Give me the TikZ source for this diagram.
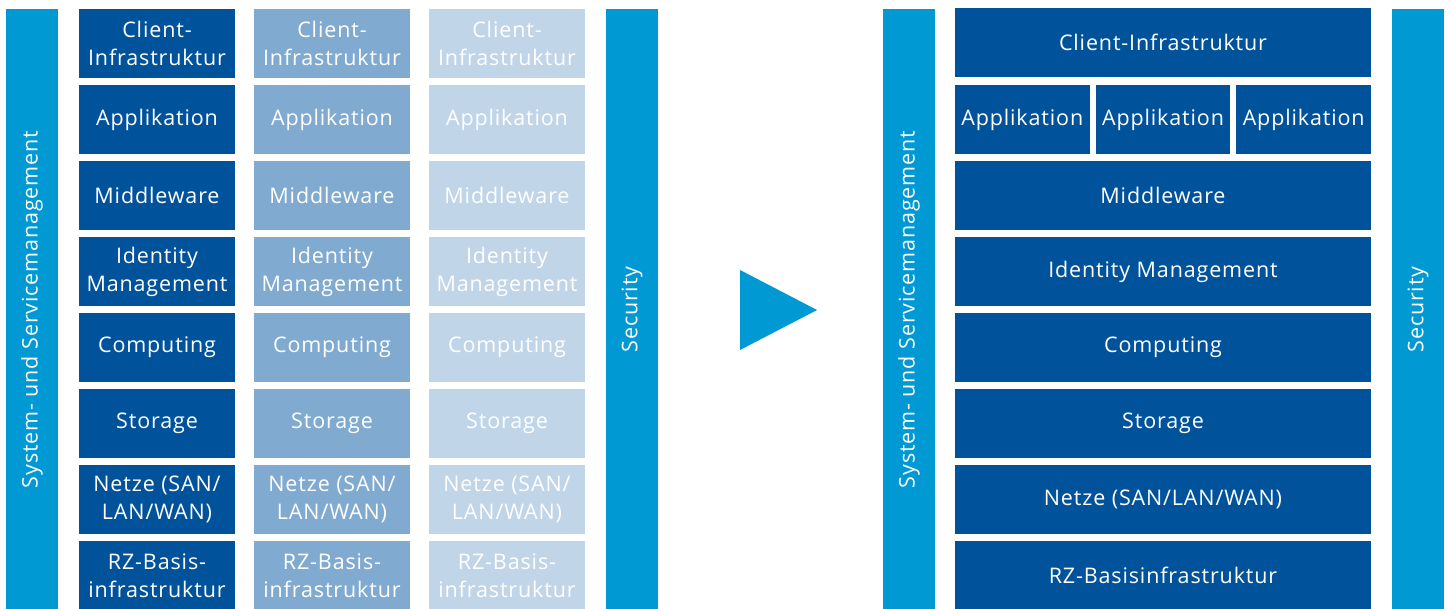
\documentclass[tikz,border=0pt]{standalone}
\usepackage{fontspec}
\setmainfont[LetterSpace=4]{Open Sans}
\definecolor{dkblue}{RGB}{0,83,155}
\definecolor{mdblue}{RGB}{128,170,208}
\definecolor{ltblue}{RGB}{193,213,232}
\definecolor{cyanbar}{RGB}{0,153,212}
\tikzset{
  blk/.style={fill=dkblue, text=white, minimum width=156pt, minimum height=69pt,
    inner sep=0pt, align=center, font=\fontsize{21.5}{28}\selectfont},
  vbar/.style={fill=cyanbar, text=white, minimum width=601pt, minimum height=52pt,
    inner sep=0pt, rotate=90, font=\fontsize{21.5}{28}\selectfont},
}
\begin{document}
\begin{tikzpicture}[x=1pt,y=-1pt]
\useasboundingbox (0,0) rectangle (1451,608);
\clip (0,0) rectangle (1451,608);
% left part
\node[vbar] (sysL) at (32,309.5) {System- und Servicemanagement};
\node[vbar] (secL) at (632,309.5) {Security};
\foreach \col/\cc in {0/dkblue,1/mdblue,2/ltblue}{
  \foreach \txt [count=\r from 0] in {{Client-\\Infrastruktur},{Applikation},{Middleware},{Identity\\Management},{Computing},{Storage},{Netze (SAN/\\LAN/WAN)},{RZ-Basis-\\infrastruktur}}{
    \node[blk, fill=\cc] (L\col-\r) at ({157+175*\col},{43.5+76*\r}) {\txt};
  }
}
% arrow
\path[fill=cyanbar] (740,270) -- (817,310) -- (740,350) -- cycle;
% right part
\node[vbar] (sysR) at (909,309.5) {System- und Servicemanagement};
\node[vbar] (secR) at (1418,309.5) {Security};
\node[blk, minimum width=416pt] (R0) at (1163,42.5) {Client-Infrastruktur};
\foreach \i/\xx in {1/1022.3,2/1163,3/1303.7}{
  \node[blk, minimum width=134.7pt] (A\i) at (\xx,119.5) {Applikation};
}
\foreach \txt [count=\r from 2] in {{Middleware},{Identity Management},{Computing},{Storage},{Netze (SAN/LAN/WAN)},{RZ-Basisinfrastruktur}}{
  \node[blk, minimum width=416pt] (R\r) at (1163,{43.5+76*\r}) {\txt};
}
\end{tikzpicture}
\end{document}
